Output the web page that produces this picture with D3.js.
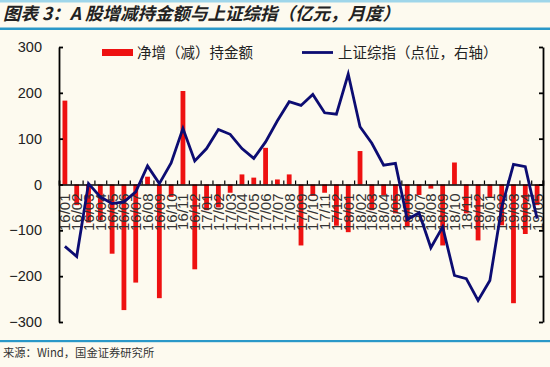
<!DOCTYPE html>
<html>
<head>
<meta charset="utf-8">
<script src="https://cdn.jsdelivr.net/npm/d3@7"></script>
<style>
  body { margin: 0; background: #fdfaef; }
  svg { display: block; }
  text { font-family: "Liberation Sans", Arial, "Noto Sans CJK SC", sans-serif; }
  .cjk { font-family: "Noto Sans CJK SC", sans-serif; }
</style>
</head>
<body>
<div id="chart"></div>
<script>
// 月份 2016/01 - 2019/05
var months = [];
for (var y = 16; y <= 19; y++) {
  for (var m = 1; m <= 12; m++) {
    if (y == 19 && m > 5) break;
    months.push(y + "/" + (m < 10 ? "0" + m : m));
  }
}
// 净增(减)持金额, 亿元
var netHold = [183, -45, -83, -78, -151, -274, -214, 17, -248, -27,
               204, -185, -56, -50, -18, 22, 15, 80, 11, 22,
               -133, -25, -18, -90, -104, 73, -56, -23, -63, -93,
               -23, -9, -133, 48, -63, -122, -28, -89, -259, -108, -45];
// 上证综指, 点位 (右轴)
var shIndex = [2730, 2686, 3004, 2946, 2917, 2924, 2968, 3081, 3004, 3094,
               3245, 3103, 3157, 3240, 3219, 3157, 3114, 3186, 3278, 3361,
               3345, 3393, 3313, 3307, 3482, 3252, 3180, 3084, 3092, 2847,
               2876, 2724, 2815, 2603, 2589, 2494, 2581, 2900, 3088, 3078, 2851];
var leftTicks = [300, 200, 100, 0, -100, -200, -300];
var rightTicks = [3600, 3400, 3200, 3000, 2800, 2600, 2400];

var W = 550, H = 367;
var margin = {top: 47, left: 59, right: 7, bottom: 45};
var plotW = W - margin.left - margin.right,
    plotH = H - margin.top - margin.bottom;

var svg = d3.select("#chart").append("svg")
    .attr("width", W)
    .attr("height", H);

svg.append("rect").attr("width", W).attr("height", H).attr("fill", "#fdfaef");

// title band
svg.append("rect").attr("x", 0).attr("y", 0).attr("width", W).attr("height", 2.5).attr("fill", "#9fd6ea");
svg.append("text")
    .attr("class", "cjk")
    .attr("x", 3).attr("y", 20)
    .attr("font-size", 17.5)
    .attr("font-weight", "bold")
    .attr("font-style", "italic")
    .attr("fill", "#222")
    .text("图表 3：A 股增减持金额与上证综指（亿元，月度）");
svg.append("rect").attr("x", 0).attr("y", 27.5).attr("width", W).attr("height", 2.5).attr("fill", "#2a98c8");

// footer
svg.append("rect").attr("x", 0).attr("y", 340).attr("width", W).attr("height", 2.2).attr("fill", "#2a98c8");
svg.append("text")
    .attr("class", "cjk")
    .attr("x", 3).attr("y", 357)
    .attr("font-size", 11.3)
    .attr("fill", "#333")
    .text("来源：Wind，国金证券研究所");

var g = svg.append("g")
    .attr("transform", "translate(" + margin.left + "," + margin.top + ")");

var xs = d3.scaleBand().domain(months).range([0, plotW]);

var yL = d3.scaleLinear().domain([-300, 300]).range([plotH, 0]);
var yR = d3.scaleLinear().domain([2400, 3600]).range([plotH, 0]);

// bars
g.selectAll(".bar")
  .data(netHold)
  .enter().append("rect")
    .attr("class", "bar")
    .attr("x", function(d, i) { return xs(months[i]) + xs.bandwidth() / 2 - 2.4; })
    .attr("width", 4.8)
    .attr("y", function(d) { return d > 0 ? yL(d) : yL(0); })
    .attr("height", function(d) { return Math.abs(yL(d) - yL(0)); })
    .attr("fill", "#ee1111");

// category labels (rotated, under the zero line, overlapping as in the source)
g.selectAll(".xlab")
  .data(months)
  .enter().append("text")
    .attr("class", "xlab")
    .attr("transform", function(d) {
      return "translate(" + (xs(d) + xs.bandwidth() / 2 + 5.5) + "," + (yL(0) + 9) + ") rotate(-90)";
    })
    .attr("text-anchor", "end")
    .attr("font-size", 15)
    .attr("fill", "#333")
    .text(function(d) { return d; });

// zero axis with ticks pointing up
var xAxis = d3.axisTop(xs).tickSize(4).tickFormat("");
var xg = g.append("g").attr("transform", "translate(0," + yL(0) + ")").call(xAxis);
xg.selectAll(".tick").attr("transform", function(d) { return "translate(" + (xs(d) + 0.5) + ",0)"; });
xg.append("line").attr("x1", plotW).attr("x2", plotW).attr("y1", 0).attr("y2", -4).attr("stroke", "#000");
xg.select(".domain").attr("stroke-width", 1.6);
xg.selectAll("line").attr("stroke-width", 1.2);

// line
var line = d3.line()
    .x(function(d, i) { return xs(months[i]) + xs.bandwidth() / 2; })
    .y(function(d) { return yR(d); });
g.append("path")
    .datum(shIndex)
    .attr("fill", "none")
    .attr("stroke", "#0c0c72")
    .attr("stroke-width", 2.8)
    .attr("stroke-linejoin", "miter")
    .attr("d", line);

// left axis
var la = g.append("g").call(d3.axisLeft(yL).tickValues(leftTicks).tickSizeInner(-4).tickSizeOuter(0).tickPadding(17));
la.select(".domain").attr("stroke-width", 1.8);
la.selectAll(".tick line").attr("stroke-width", 1.8);
la.selectAll("text").attr("font-size", 14.5).attr("fill", "#222");

// right axis (no labels)
var ra = g.append("g").attr("transform", "translate(" + plotW + ",0)")
    .call(d3.axisRight(yR).tickValues(rightTicks).tickSizeInner(-4).tickSizeOuter(0).tickFormat(""));
ra.select(".domain").attr("stroke-width", 1.8);
ra.selectAll(".tick line").attr("stroke-width", 1.8);

// legend
var lg = svg.append("g");
lg.append("rect").attr("x", 102).attr("y", 49).attr("width", 31).attr("height", 7).attr("fill", "#ee1111");
lg.append("text").attr("class", "cjk").attr("x", 137).attr("y", 58).attr("font-size", 14.5).attr("fill", "#222")
  .text("净增（减）持金额");
lg.append("line").attr("x1", 302).attr("x2", 333).attr("y1", 52.5).attr("y2", 52.5)
  .attr("stroke", "#0c0c72").attr("stroke-width", 2.8);
lg.append("text").attr("class", "cjk").attr("x", 338).attr("y", 58).attr("font-size", 14.5).attr("fill", "#222")
  .text("上证综指（点位，右轴）");
</script>
</body>
</html>
